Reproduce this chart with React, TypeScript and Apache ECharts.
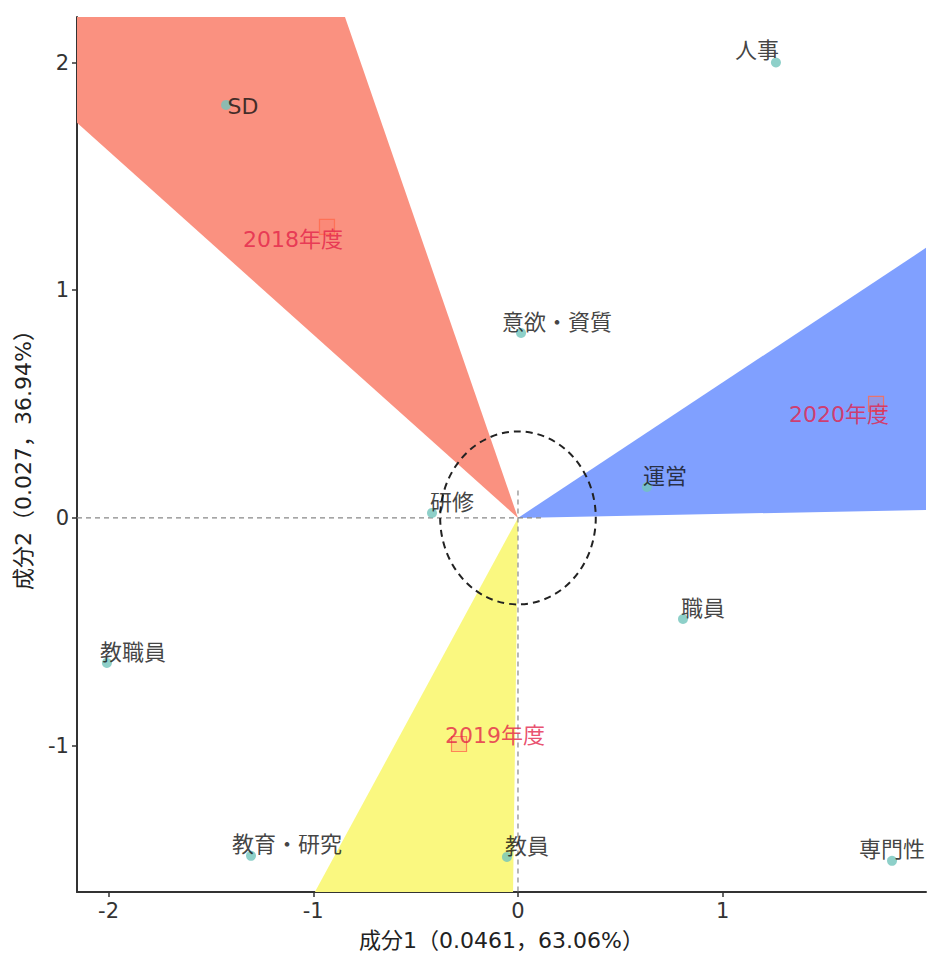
import React, { useEffect, useRef } from "react";
import * as echarts from "echarts";

// Row points (categories) — coordinates on 成分1 / 成分2
const rowNames = ["人事", "SD", "意欲・資質", "運営", "研修", "職員", "教職員", "教育・研究", "教員", "専門性"];
const rowX = [1.26, -1.426, 0.015, 0.63, -0.42, 0.806, -2.008, -1.304, -0.054, 1.827];
const rowY = [2.0, 1.814, 0.812, 0.136, 0.022, -0.444, -0.637, -1.484, -1.489, -1.506];

// Column points (years)
const colNames = ["2018年度", "2019年度", "2020年度"];
const colX = [-0.933, -0.288, 1.749];
const colY = [1.278, -0.993, 0.501];

// Wedge edge points (where each edge leaves the plot)
const wedgeEdgeA = [[-2.154, 1.735], [-0.992, -1.643], [1.993, 1.186]];
const wedgeEdgeB = [[-0.845, 2.2], [-0.024, -1.643], [1.993, 0.035]];
const wedgeColors = ["#FA9180", "#FAF880", "#80A0FF"];

// Axis setup
const xRange = [-2.154, 1.993];
const yRange = [-1.643, 2.2];
const xTicks = [-2, -1, 0, 1];
const yTicks = [-1, 0, 1, 2];
const xTitle = "成分1（0.0461，63.06%）";
const yTitle = "成分2（0.027，36.94%）";

// Reference elements
const circleRadius = 0.38;
const hLine = [[-2.154, 0], [0.12, 0]];
const vLine = [[0, 0.12], [0, -1.643]];

// label offsets (style)
const rowLabelOffsets: Record<string, number[]> = {
  "人事": [-19, -12],
  "SD": [17, 2],
  "意欲・資質": [36, -11],
  "運営": [18, -10],
  "研修": [20, -10],
  "職員": [20, -11],
  "教職員": [26, -10],
  "教育・研究": [36, -11],
  "教員": [20, -10],
  "専門性": [0, -11],
};
const colLabelOffsets: Record<string, number[]> = {
  "2018年度": [-34, 13],
  "2019年度": [36, -9],
  "2020年度": [-37, 11],
};

const FONT = "'DejaVu Sans', 'Noto Sans CJK JP', sans-serif";

export default function App() {
  const ref = useRef<HTMLDivElement>(null);
  useEffect(() => {
    if (!ref.current) return;
    const chart = echarts.init(ref.current, undefined, { renderer: "svg" });
    const axisCommon = {
      type: "value",
      splitLine: { show: false },
      axisLine: { show: true, onZero: false, lineStyle: { color: "#333", width: 2 } },
      axisTick: { show: true, length: 5, lineStyle: { color: "#333", width: 1.5 } },
      nameLocation: "middle",
      nameTextStyle: { fontFamily: FONT, fontSize: 22, color: "#222" },
    };
    chart.setOption({
      animation: false,
      backgroundColor: "#fff",
      grid: { left: 77, right: 2, top: 17, bottom: 65, containLabel: false },
      xAxis: {
        ...axisCommon,
        min: xRange[0],
        max: xRange[1],
        name: xTitle,
        nameGap: 37,
        axisTick: { ...axisCommon.axisTick, customValues: xTicks },
        axisLabel: { customValues: xTicks, fontFamily: FONT, fontSize: 21, color: "#333", margin: 8 },
      },
      yAxis: {
        ...axisCommon,
        min: yRange[0],
        max: yRange[1],
        name: yTitle,
        nameGap: 43,
        nameRotate: 90,
        axisTick: { ...axisCommon.axisTick, customValues: yTicks },
        axisLabel: { customValues: yTicks, fontFamily: FONT, fontSize: 21, color: "#333", margin: 8 },
      },
      series: [
        {
          type: "custom",
          clip: true,
          z: 1,
          data: wedgeColors.map((_, i) => [0, 0, i]),
          renderItem: (params: any, api: any) => {
            const i = params.dataIndex;
            const k = 3;
            const a = wedgeEdgeA[i];
            const b = wedgeEdgeB[i];
            const pts = [[0, 0], [a[0] * k, a[1] * k], [b[0] * k, b[1] * k]].map((p) => api.coord(p));
            return { type: "polygon", shape: { points: pts }, style: { fill: wedgeColors[i] } };
          },
        },
        {
          type: "line",
          data: hLine,
          symbol: "none",
          z: 2,
          lineStyle: { color: "#888", width: 1.2, type: [5, 4] },
        },
        {
          type: "line",
          data: vLine,
          symbol: "none",
          z: 2,
          lineStyle: { color: "#888", width: 1.2, type: [5, 4] },
        },
        {
          type: "custom",
          z: 3,
          data: [[0, 0]],
          renderItem: (_params: any, api: any) => {
            const c = api.coord([0, 0]);
            const s = api.size([circleRadius, circleRadius]);
            const rx = s[0];
            const ry = s[1];
            const d = `M ${c[0] - rx} ${c[1]} A ${rx} ${ry} 0 1 0 ${c[0] + rx} ${c[1]} A ${rx} ${ry} 0 1 0 ${c[0] - rx} ${c[1]} Z`;
            return {
              type: "path",
              shape: { pathData: d },
              style: { fill: "none", stroke: "#222", lineWidth: 2, lineDash: [7, 5] },
            };
          },
        },
        {
          type: "scatter",
          z: 4,
          symbol: "circle",
          symbolSize: 10,
          itemStyle: { color: "#72C4BC" },
          data: rowNames.map((n, i) => ({
            name: n,
            value: [rowX[i], rowY[i]],
            label: { offset: rowLabelOffsets[n] },
          })),
          label: {
            show: true,
            position: "inside",
            formatter: "{b}",
            fontFamily: FONT,
            fontSize: 22,
            color: "#111",
            align: "center",
            verticalAlign: "middle",
          },
        },
        {
          type: "scatter",
          z: 4,
          symbol: "rect",
          symbolSize: 15,
          itemStyle: { color: "rgba(255,100,80,0.2)", borderColor: "#FF6A4D", borderWidth: 1.2 },
          data: colNames.map((n, i) => ({
            name: n,
            value: [colX[i], colY[i]],
            label: { offset: colLabelOffsets[n] },
          })),
          label: {
            show: true,
            position: "inside",
            formatter: "{b}",
            fontFamily: FONT,
            fontSize: 22,
            color: "#E3234A",
            align: "center",
            verticalAlign: "middle",
          },
        },
      ],
    });
    return () => chart.dispose();
  }, []);
  return <div ref={ref} style={{ position: "absolute", left: 0, top: 0, width: 928, height: 957 }} />;
}
